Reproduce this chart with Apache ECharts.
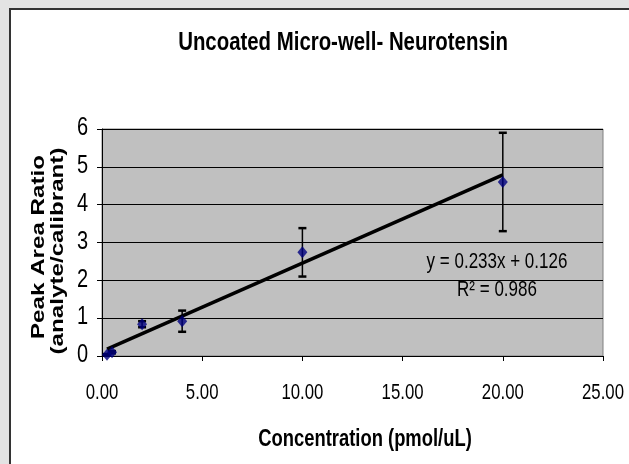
<!DOCTYPE html>
<html><head><meta charset="utf-8">
<script src="https://cdn.jsdelivr.net/npm/echarts@6/dist/echarts.min.js"></script>
<style>html,body{margin:0;padding:0;background:#e3e3e3}#c{width:629px;height:464px}</style>
</head><body><div id="c"></div>
<script>
const concentration = [0.25, 0.5, 2, 4, 10, 20];
const peakRatio = [0.03, 0.10, 0.84, 0.92, 2.74, 4.60];
const errorSize = [0.02, 0.03, 0.08, 0.28, 0.64, 1.30];
const trendX = [0.25, 20];
const trendY = [0.184, 4.786];
const xTickValues = [0, 5, 10, 15, 20, 25];
const xTicks = ['0.00', '5.00', '10.00', '15.00', '20.00', '25.00'];
const yTickValues = [0, 1, 2, 3, 4, 5, 6];
const yTicks = ['0', '1', '2', '3', '4', '5', '6'];
const titleText = 'Uncoated Micro-well- Neurotensin';
const xTitle = 'Concentration (pmol/uL)';
const yTitleLines = ['Peak Area Ratio', '(analyte/calibrant)'];
const eqLines = ['y = 0.233x + 0.126', 'R² = 0.986'];

const FONT = '"Liberation Sans", Arial, sans-serif';
const STRETCH = 1.3;
const chart = echarts.init(document.getElementById('c'), null, {renderer: 'canvas'});
const scatterData = concentration.map((x, i) => [x, peakRatio[i]]);
const errData = concentration.map((x, i) => [x, peakRatio[i] - errorSize[i], peakRatio[i] + errorSize[i]]);
const trendData = trendX.map((x, i) => [x, trendY[i]]);

chart.setOption({
  backgroundColor: '#e3e3e3',
  animation: false,
  grid: {left: 102, right: 26, top: 129, bottom: 108, show: true, backgroundColor: '#c0c0c0', borderColor: '#808080', borderWidth: 1},
  xAxis: {
    type: 'value', min: 0, max: 25, interval: 5,
    axisLine: {lineStyle: {color: '#000', width: 1}},
    axisTick: {show: true, length: 5, lineStyle: {color: '#000'}},
    axisLabel: {show: false},
    splitLine: {show: false}
  },
  yAxis: {
    type: 'value', min: 0, max: 6, interval: 1,
    axisLine: {show: true, lineStyle: {color: '#000', width: 1}},
    axisTick: {show: true, length: 5, lineStyle: {color: '#000'}},
    axisLabel: {show: false},
    splitLine: {show: true, lineStyle: {color: '#000', width: 1}}
  },
  series: [
    {
      type: 'line', data: trendData, symbol: 'none', z: 3,
      lineStyle: {color: '#000', width: 3.5}
    },
    {
      type: 'custom', z: 4, data: errData,
      renderItem: function (params, api) {
        const x = api.value(0);
        const lo = api.coord([x, api.value(1)]);
        const hi = api.coord([x, api.value(2)]);
        const cw = 4;
        const st = {stroke: '#000', lineWidth: 1.5};
        return {type: 'group', children: [
          {type: 'line', shape: {x1: lo[0], y1: lo[1], x2: hi[0], y2: hi[1]}, style: st},
          {type: 'line', shape: {x1: lo[0] - cw, y1: lo[1], x2: lo[0] + cw, y2: lo[1]}, style: {stroke: '#000', lineWidth: 2.5}},
          {type: 'line', shape: {x1: hi[0] - cw, y1: hi[1], x2: hi[0] + cw, y2: hi[1]}, style: {stroke: '#000', lineWidth: 2.5}}
        ]};
      }
    },
    {
      type: 'scatter', data: scatterData, symbol: 'diamond', symbolSize: [10, 12], z: 5,
      itemStyle: {color: '#000080'}
    }
  ]
});

function txt(text, x, y, size, bold, align, opts) {
  return Object.assign({
    type: 'text', z: 10, x: x, y: y, scaleY: STRETCH, silent: true,
    style: {text: text, font: (bold ? 'bold ' : '') + size + 'px ' + FONT, fill: '#000',
      align: align || 'center', verticalAlign: 'middle'}
  }, opts || {});
}

const g = [
  {type: 'rect', z: -10, silent: true, shape: {x: 10, y: 9, width: 640, height: 480},
    style: {fill: '#ffffff', stroke: '#333333', lineWidth: 2}},
  txt(titleText, 343, 43, 20.4, true),
  txt(xTitle, 365, 439, 18.4, true),
  txt(eqLines[0], 497, 262, 17, false),
  txt(eqLines[1], 497, 290, 17, false),
  {type: 'text', z: 10, x: 39, y: 247, rotation: Math.PI / 2, scaleX: STRETCH, silent: true,
    style: {text: yTitleLines[0], font: 'bold 18.6px ' + FONT, fill: '#000', align: 'center', verticalAlign: 'middle'}},
  {type: 'text', z: 10, x: 58, y: 251, rotation: Math.PI / 2, scaleX: STRETCH, silent: true,
    style: {text: yTitleLines[1], font: 'bold 18.6px ' + FONT, fill: '#000', align: 'center', verticalAlign: 'middle'}}
];
xTickValues.forEach((v, i) => {
  const p = chart.convertToPixel({gridIndex: 0}, [v, 0]);
  g.push(txt(xTicks[i], p[0], p[1] + 37, 16.8, false));
});
yTickValues.forEach((v, i) => {
  const p = chart.convertToPixel({gridIndex: 0}, [0, v]);
  g.push(txt(yTicks[i], p[0] - 14, p[1] - 1, 20, false, 'right'));
});
chart.setOption({graphic: g});
</script></body></html>
